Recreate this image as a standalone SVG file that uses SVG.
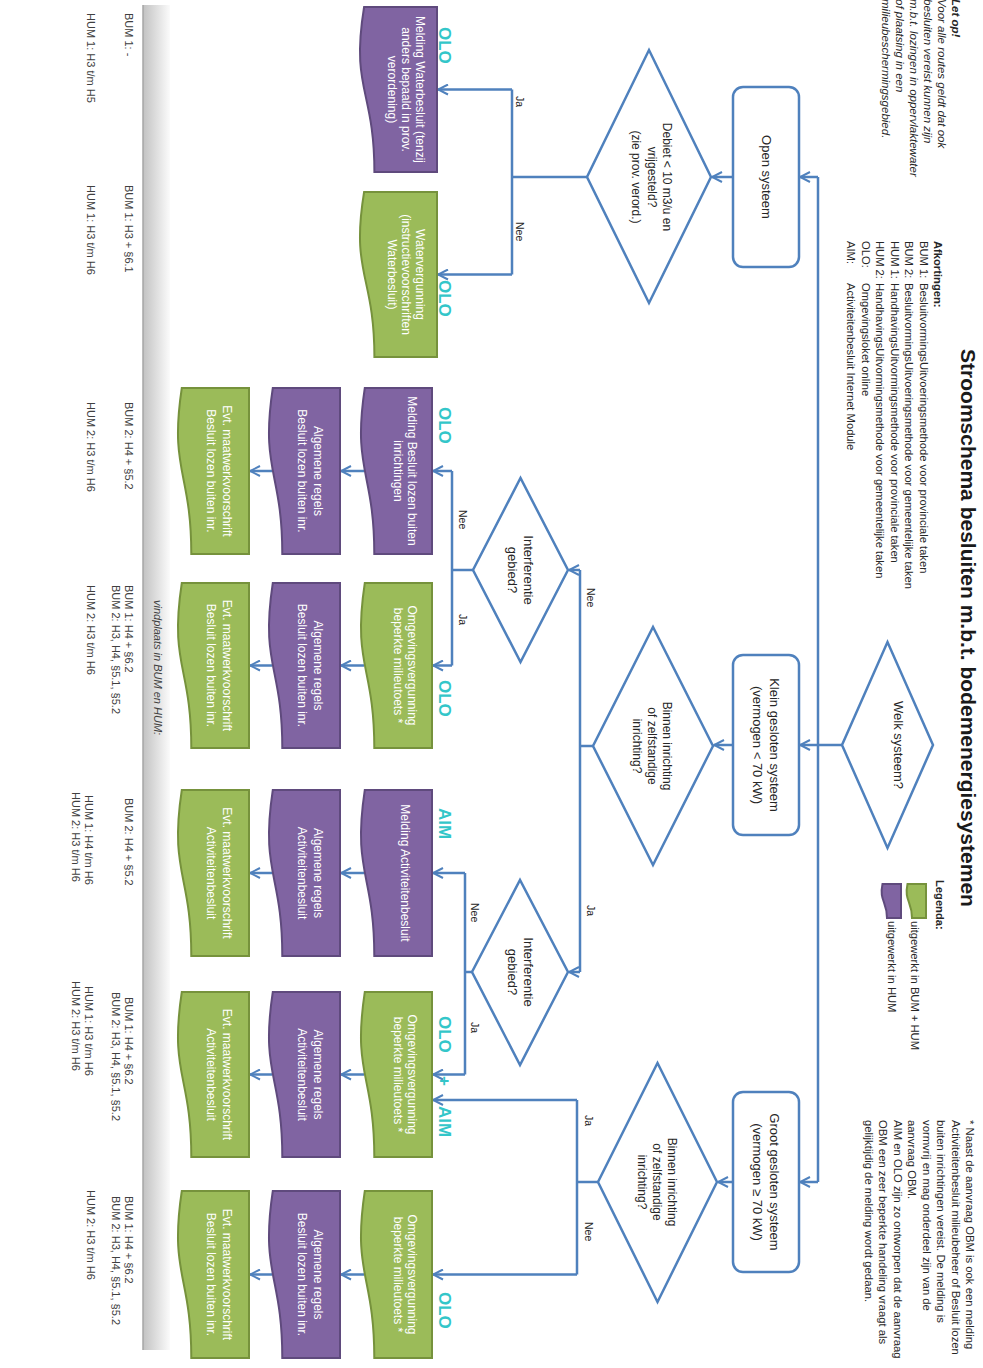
<svg xmlns="http://www.w3.org/2000/svg" width="983" height="1368" viewBox="0 0 983 1368">
<defs>
<style>
text{font-family:"Liberation Sans",Arial,sans-serif}
.ln{fill:none;stroke:#4F81BD;stroke-width:2.5}
.ar{fill:none;stroke:#4F81BD;stroke-width:2.5;marker-end:url(#ah)}
.dia{fill:#fff;stroke:#4F81BD;stroke-width:2.5}
.rr{fill:#fff;stroke:#4F81BD;stroke-width:2.5}
.pu{fill:#8064A2;stroke:#5F4A7D;stroke-width:2}
.gr{fill:#9BBB59;stroke:#76923C;stroke-width:2}
.wt{fill:#fff;font-size:12px;text-anchor:middle}
.dt{fill:#262626;font-size:12px;text-anchor:middle}
.rt{fill:#262626;font-size:13px;text-anchor:middle}
.cy{fill:#33C6C9;font-size:17px;font-weight:bold}
.br{fill:#262626;font-size:10.5px}
.sm{fill:#262626;font-size:11.2px}
.lo{fill:#262626;font-size:11.5px;font-style:italic}
.ft{fill:#262626;font-size:11.3px}
.vp{fill:#404040;font-size:11px}
</style>
<linearGradient id="bar" x1="0" y1="0" x2="0" y2="1">
<stop offset="0" stop-color="#fbfbfb"/>
<stop offset="1" stop-color="#c2c2c2"/>
</linearGradient>
<marker id="ah" viewBox="0 0 12 12" refX="11" refY="6" markerWidth="12" markerHeight="12" markerUnits="userSpaceOnUse" orient="auto">
<path d="M1,1 L11,6 L1,11" fill="none" stroke="#4F81BD" stroke-width="2"/>
</marker>
</defs>
<rect width="983" height="1368" fill="#fff"/>
<g transform="translate(983,0) rotate(90)">

<g id="title">
<text x="628" y="22" font-size="21" font-weight="bold" text-anchor="middle" fill="#1a1a1a">Stroomschema besluiten m.b.t. bodemenergiesystemen</text>
</g>

<g id="let-op">
<text class="lo" x="-1" y="31" font-weight="bold">Let op!</text>
<text class="lo" x="-1" y="45">Voor alle routes geldt dat ook</text>
<text class="lo" x="-1" y="59">besluiten vereist kunnen zijn</text>
<text class="lo" x="-1" y="73">m.b.t. lozingen in oppervlaktewater</text>
<text class="lo" x="-1" y="87">of plaatsing in een</text>
<text class="lo" x="-1" y="101">milieubeschermingsgebied.</text>
</g>

<g id="afkortingen">
<text class="sm" x="241" y="49" font-weight="bold">Afkortingen:</text>
<text class="sm" x="241" y="63.5">BUM 1:</text><text class="sm" x="283" y="63.5">BesluitvormingsUitvoeringsmethode voor provinciale taken</text>
<text class="sm" x="241" y="78">BUM 2:</text><text class="sm" x="283" y="78">BesluitvormingsUitvoeringsmethode voor gemeentelijke taken</text>
<text class="sm" x="241" y="92.5">HUM 1:</text><text class="sm" x="283" y="92.5">HandhavingsUitvormingsmethode voor provinciale taken</text>
<text class="sm" x="241" y="107">HUM 2:</text><text class="sm" x="283" y="107">HandhavingsUitvormingsmethode voor gemeentelijke taken</text>
<text class="sm" x="241" y="121.5">OLO:</text><text class="sm" x="283" y="121.5">Omgevingsloket online</text>
<text class="sm" x="241" y="136">AIM:</text><text class="sm" x="283" y="136">Activiteitenbesluit Internet Module</text>
</g>

<g id="legenda">
<text class="sm" x="880" y="47" font-weight="bold">Legenda:</text>
<path class="gr" d="M884,57 H918 V71 C901,71 901,79 884,75.5 Z"/>
<path class="pu" d="M884,82 H918 V96 C901,96 901,104 884,100.5 Z"/>
<text class="sm" x="921" y="72">uitgewerkt in BUM + HUM</text>
<text class="sm" x="921" y="95">uitgewerkt in HUM</text>
</g>

<g id="voetnoot">
<text class="ft" x="1120" y="17">* Naast de aanvraag OBM is ook een melding</text>
<text class="ft" x="1120" y="31.5">Activiteitenbesluit milieubeheer of Besluit lozen</text>
<text class="ft" x="1120" y="46">buiten inrichtingen vereist. De melding is</text>
<text class="ft" x="1120" y="60.5">vormvrij en mag onderdeel zijn van de</text>
<text class="ft" x="1120" y="75">aanvraag OBM.</text>
<text class="ft" x="1120" y="89.5">AIM en OLO zijn zo ontworpen dat de aanvraag</text>
<text class="ft" x="1120" y="104">OBM een zeer beperkte handeling vraagt als</text>
<text class="ft" x="1120" y="118.5">gelijktijdig de melding wordt gedaan.</text>
</g>

<g id="connectors">
<path class="ln" d="M745,141 V165 M177,165 H1182"/>
<path class="ar" d="M177,165 V183"/>
<path class="ar" d="M745,165 V183"/>
<path class="ar" d="M1182,165 V183"/>
<path class="ar" d="M177,250 V271"/>
<path class="ar" d="M745,250 V269"/>
<path class="ar" d="M1182,250 V265"/>
<path class="ln" d="M177,396 V471 M89.5,471 H274.5"/>
<path class="ar" d="M89.5,471 V545"/>
<path class="ar" d="M274.5,471 V545"/>
<path class="ln" d="M746,390 V403 M570,403 H972"/>
<path class="ar" d="M570,403 V414"/>
<path class="ar" d="M972,403 V414"/>
<path class="ln" d="M1182,385 V406 M1100,406 H1274.5"/>
<path class="ar" d="M1100,406 V550"/>
<path class="ar" d="M1274.5,406 V550"/>
<path class="ln" d="M570,510 V531 M471,531 H665.5"/>
<path class="ar" d="M471,531 V550"/>
<path class="ar" d="M665.5,531 V550"/>
<path class="ln" d="M972,511 V518 M873,518 H1074.5"/>
<path class="ar" d="M873,518 V550"/>
<path class="ar" d="M1074.5,518 V550"/>
<path class="ar" d="M471,619 V642"/>
<path class="ar" d="M471,711 V733"/>
<path class="ar" d="M665.5,619 V642"/>
<path class="ar" d="M665.5,711 V733"/>
<path class="ar" d="M873,619 V642"/>
<path class="ar" d="M873,711 V733"/>
<path class="ar" d="M1074.5,619 V642"/>
<path class="ar" d="M1074.5,711 V733"/>
<path class="ar" d="M1274.5,619 V642"/>
<path class="ar" d="M1274.5,711 V733"/>
<text class="br" x="96" y="467">Ja</text>
<text class="br" x="222" y="467">Nee</text>
<text class="br" x="588" y="396">Nee</text>
<text class="br" x="905" y="396">Ja</text>
<text class="br" x="1115" y="398">Ja</text>
<text class="br" x="1222" y="398">Nee</text>
<text class="br" x="510" y="524">Nee</text>
<text class="br" x="614" y="524">Ja</text>
<text class="br" x="903" y="512">Nee</text>
<text class="br" x="1022" y="512">Ja</text>
</g>

<g id="welk-systeem">
<polygon class="dia" points="745,50 848,95.5 745,141 642,95.5"/>
<text class="rt" x="745" y="89">Welk systeem?</text>
</g>

<g id="open-systeem">
<rect class="rr" x="87" y="184" width="180" height="66" rx="10"/>
<text class="rt" x="177" y="221">Open systeem</text>
</g>

<g id="klein-gesloten">
<rect class="rr" x="655" y="184" width="180" height="66" rx="10"/>
<text class="rt" x="745" y="213">Klein gesloten systeem</text>
<text class="rt" x="745" y="230">(vermogen &lt; 70 kW)</text>
</g>

<g id="groot-gesloten">
<rect class="rr" x="1092" y="184" width="180" height="66" rx="10"/>
<text class="rt" x="1182" y="213">Groot gesloten systeem</text>
<text class="rt" x="1182" y="230">(vermogen ≥ 70 kW)</text>
</g>

<g id="debiet">
<polygon class="dia" points="177,272 303,334 177,396 50,334"/>
<text class="dt" x="177" y="320">Debiet &lt; 10 m3/u  en</text>
<text class="dt" x="177" y="335">vrijgesteld?</text>
<text class="dt" x="177" y="351">(zie prov. verord.)</text>
</g>

<g id="binnen-inrichting-klein">
<polygon class="dia" points="746,270 865,330 746,390 627,330"/>
<text class="dt" x="746" y="320">Binnen inrichting</text>
<text class="dt" x="746" y="335">of zelfstandige</text>
<text class="dt" x="746" y="350">inrichting?</text>
</g>

<g id="binnen-inrichting-groot">
<polygon class="dia" points="1182,266 1302,325.5 1182,385 1063,325.5"/>
<text class="dt" x="1182" y="315">Binnen inrichting</text>
<text class="dt" x="1182" y="330">of zelfstandige</text>
<text class="dt" x="1182" y="345">inrichting?</text>
</g>

<g id="interferentie-1">
<polygon class="dia" points="570,415 662,462.5 570,510 478,462.5"/>
<text class="rt" x="570" y="459">Interferentie</text>
<text class="rt" x="570" y="475">gebied?</text>
</g>

<g id="interferentie-2">
<polygon class="dia" points="972,415 1065,463 972,511 880,463"/>
<text class="rt" x="972" y="459">Interferentie</text>
<text class="rt" x="972" y="475">gebied?</text>
</g>

<g id="melding-waterbesluit">
<path class="pu" d="M7,546 H172 V608.6 C89.5,608.6 89.5,632.4 7,618.9 Z"/>
<text class="wt" x="89.5" y="567">Melding Waterbesluit (tenzij</text>
<text class="wt" x="89.5" y="581">anders bepaald in prov.</text>
<text class="wt" x="89.5" y="595">verordening)</text>
<text class="cy" x="27" y="544">OLO</text>
</g>

<g id="watervergunning">
<path class="gr" d="M192,546 H357 V608.6 C274.5,608.6 274.5,632.4 192,618.9 Z"/>
<text class="wt" x="274.5" y="567">Watervergunning</text>
<text class="wt" x="274.5" y="581">(instructievoorschriften</text>
<text class="wt" x="274.5" y="595">Waterbesluit)</text>
<text class="cy" x="280" y="544">OLO</text>
</g>

<g id="melding-blbi">
<path class="pu" d="M388,551 H554 V608.7 C471,608.7 471,630.7 388,618.2 Z"/>
<text class="wt" x="471" y="575">Melding Besluit lozen buiten</text>
<text class="wt" x="471" y="589">inrichtingen</text>
<text class="cy" x="407" y="544">OLO</text>
</g>

<g id="ovb-1">
<path class="gr" d="M583,551 H748 V608.7 C665.5,608.7 665.5,630.7 583,618.2 Z"/>
<text class="wt" x="665.5" y="575">Omgevingsvergunning</text>
<text class="wt" x="665.5" y="589">beperkte milieutoets *</text>
<text class="cy" x="680" y="544">OLO</text>
</g>

<g id="melding-activiteitenbesluit">
<path class="pu" d="M790,551 H956 V608.7 C873,608.7 873,630.7 790,618.2 Z"/>
<text class="wt" x="873" y="582">Melding Activiteitenbesluit</text>
<text class="cy" x="808" y="544">AIM</text>
</g>

<g id="ovb-2">
<path class="gr" d="M992,551 H1157 V608.7 C1074.5,608.7 1074.5,630.7 992,618.2 Z"/>
<text class="wt" x="1074.5" y="575">Omgevingsvergunning</text>
<text class="wt" x="1074.5" y="589">beperkte milieutoets *</text>
<text class="cy" x="1016" y="544">OLO</text>
<text class="cy" x="1076" y="544">+</text>
<text class="cy" x="1106" y="544">AIM</text>
</g>

<g id="ovb-3">
<path class="gr" d="M1191,551 H1358 V608.7 C1274.5,608.7 1274.5,630.7 1191,618.2 Z"/>
<text class="wt" x="1274.5" y="575">Omgevingsvergunning</text>
<text class="wt" x="1274.5" y="589">beperkte milieutoets *</text>
<text class="cy" x="1292" y="544">OLO</text>
</g>

<g id="algemene-regels-a">
<path class="pu" d="M388,643 H554 V700.7 C471,700.7 471,722.7 388,710.2 Z"/>
<text class="wt" x="471" y="669">Algemene regels</text>
<text class="wt" x="471" y="685">Besluit lozen buiten inr.</text>
</g>
<g id="algemene-regels-b">
<path class="pu" d="M583,643 H748 V700.7 C665.5,700.7 665.5,722.7 583,710.2 Z"/>
<text class="wt" x="665.5" y="669">Algemene regels</text>
<text class="wt" x="665.5" y="685">Besluit lozen buiten inr.</text>
</g>
<g id="algemene-regels-c">
<path class="pu" d="M790,643 H956 V700.7 C873,700.7 873,722.7 790,710.2 Z"/>
<text class="wt" x="873" y="669">Algemene regels</text>
<text class="wt" x="873" y="685">Activiteitenbesluit</text>
</g>
<g id="algemene-regels-d">
<path class="pu" d="M992,643 H1157 V700.7 C1074.5,700.7 1074.5,722.7 992,710.2 Z"/>
<text class="wt" x="1074.5" y="669">Algemene regels</text>
<text class="wt" x="1074.5" y="685">Activiteitenbesluit</text>
</g>
<g id="algemene-regels-e">
<path class="pu" d="M1191,643 H1358 V700.7 C1274.5,700.7 1274.5,722.7 1191,710.2 Z"/>
<text class="wt" x="1274.5" y="669">Algemene regels</text>
<text class="wt" x="1274.5" y="685">Besluit lozen buiten inr.</text>
</g>

<g id="maatwerk-a">
<path class="gr" d="M388,734 H554 V791.7 C471,791.7 471,813.7 388,801.2 Z"/>
<text class="wt" x="471" y="760">Evt. maatwerkvoorschrift</text>
<text class="wt" x="471" y="776">Besluit lozen buiten inr.</text>
</g>
<g id="maatwerk-b">
<path class="gr" d="M583,734 H748 V791.7 C665.5,791.7 665.5,813.7 583,801.2 Z"/>
<text class="wt" x="665.5" y="760">Evt. maatwerkvoorschrift</text>
<text class="wt" x="665.5" y="776">Besluit lozen buiten inr.</text>
</g>
<g id="maatwerk-c">
<path class="gr" d="M790,734 H956 V791.7 C873,791.7 873,813.7 790,801.2 Z"/>
<text class="wt" x="873" y="760">Evt. maatwerkvoorschrift</text>
<text class="wt" x="873" y="776">Activiteitenbesluit</text>
</g>
<g id="maatwerk-d">
<path class="gr" d="M992,734 H1157 V791.7 C1074.5,791.7 1074.5,813.7 992,801.2 Z"/>
<text class="wt" x="1074.5" y="760">Evt. maatwerkvoorschrift</text>
<text class="wt" x="1074.5" y="776">Activiteitenbesluit</text>
</g>
<g id="maatwerk-e">
<path class="gr" d="M1191,734 H1358 V791.7 C1274.5,791.7 1274.5,813.7 1191,801.2 Z"/>
<text class="wt" x="1274.5" y="760">Evt. maatwerkvoorschrift</text>
<text class="wt" x="1274.5" y="776">Besluit lozen buiten inr.</text>
</g>

<g id="vindplaats">
<rect x="5" y="813" width="1345" height="27" fill="url(#bar)"/>
<line x1="5" y1="840" x2="1350" y2="840" stroke="#a6a6a6" stroke-width="1.5"/>
<text class="vp" x="600" y="829" font-size="11.5" font-style="italic">vindplaats  in BUM en HUM:</text>
<text class="vp" x="13" y="858.5">BUM 1: -</text>
<text class="vp" x="13" y="896.5">HUM 1: H3 t/m H5</text>
<text class="vp" x="185" y="858.5">BUM 1: H3 + §6.1</text>
<text class="vp" x="185" y="896.5">HUM 1: H3 t/m H6</text>
<text class="vp" x="402" y="858.5">BUM 2: H4 + §5.2</text>
<text class="vp" x="402" y="896.5">HUM 2: H3 t/m H6</text>
<text class="vp" x="585" y="858.5">BUM 1: H4 + §6.2</text>
<text class="vp" x="585" y="871.5">BUM 2: H3, H4, §5.1, §5.2</text>
<text class="vp" x="585" y="896.5">HUM 2: H3 t/m H6</text>
<text class="vp" x="798" y="858.5">BUM 2: H4 + §5.2</text>
<text class="vp" x="795" y="898">HUM 1: H4 t/m H6</text>
<text class="vp" x="792" y="911.5">HUM 2: H3 t/m H6</text>
<text class="vp" x="997" y="858.5">BUM 1: H4 + §6.2</text>
<text class="vp" x="992" y="871.5">BUM 2: H3, H4, §5.1, §5.2</text>
<text class="vp" x="986" y="898">HUM 1: H3 t/m H6</text>
<text class="vp" x="981" y="911.5">HUM 2: H3 t/m H6</text>
<text class="vp" x="1196" y="858.5">BUM 1: H4 + §6.2</text>
<text class="vp" x="1196" y="871.5">BUM 2: H3, H4, §5.1, §5.2</text>
<text class="vp" x="1190" y="896.5">HUM 2: H3 t/m H6</text>
</g>

</g>
</svg>
